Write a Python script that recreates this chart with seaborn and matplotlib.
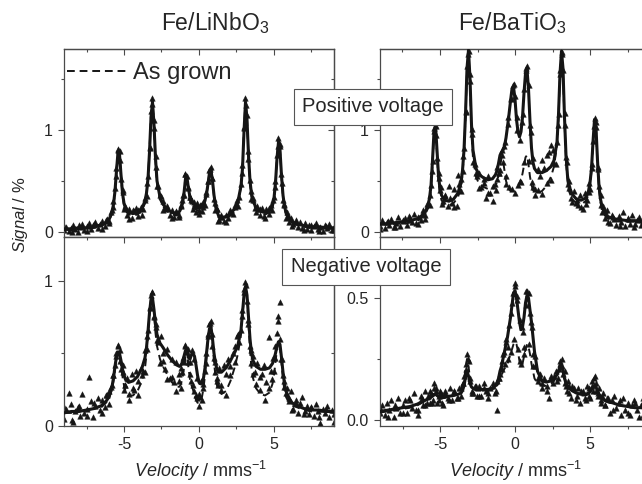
import matplotlib
matplotlib.use("Agg")
import matplotlib.pyplot as plt
import seaborn as sns

# velocity grid (mm/s) for the fitted curves
vel = [-9.0, -8.5, -8.0, -7.5, -7.0, -6.5, -6.2, -6.0, -5.8, -5.7,
       -5.6, -5.5, -5.4, -5.3, -5.2, -5.1, -5.0, -4.9, -4.7, -4.4,
       -4.1, -3.8, -3.6, -3.5, -3.4, -3.3, -3.2, -3.1, -3.0, -2.9,
       -2.8, -2.6, -2.4, -2.1, -1.8, -1.5, -1.3, -1.2, -1.1, -1.0,
       -0.9, -0.8, -0.7, -0.6, -0.5, -0.4, -0.3, -0.2, -0.1, 0.0,
       0.1, 0.2, 0.3, 0.4, 0.5, 0.6, 0.7, 0.8, 0.9, 1.0,
       1.1, 1.2, 1.3, 1.5, 1.8, 2.1, 2.4, 2.6, 2.8, 2.9,
       3.0, 3.1, 3.2, 3.3, 3.4, 3.5, 3.6, 3.8, 4.1, 4.4,
       4.7, 4.9, 5.0, 5.1, 5.2, 5.3, 5.4, 5.5, 5.6, 5.7,
       5.8, 6.0, 6.2, 6.5, 7.0, 7.5, 8.0, 8.5, 9.0]

# Fe/LiNbO3, positive voltage
fit_tl = [0.03, 0.03, 0.04, 0.04, 0.05, 0.07, 0.09, 0.12, 0.19, 0.27,
          0.40, 0.60, 0.78, 0.76, 0.56, 0.38, 0.28, 0.23, 0.19, 0.18,
          0.19, 0.23, 0.30, 0.38, 0.52, 0.78, 1.12, 1.27, 1.05, 0.72,
          0.50, 0.34, 0.27, 0.22, 0.19, 0.18, 0.20, 0.23, 0.28, 0.38,
          0.52, 0.53, 0.42, 0.34, 0.30, 0.28, 0.27, 0.25, 0.24, 0.24,
          0.24, 0.25, 0.27, 0.31, 0.37, 0.47, 0.58, 0.60, 0.50, 0.36,
          0.26, 0.20, 0.16, 0.14, 0.15, 0.18, 0.23, 0.30, 0.45, 0.62,
          0.98, 1.27, 1.10, 0.75, 0.50, 0.37, 0.30, 0.24, 0.20, 0.19,
          0.21, 0.26, 0.33, 0.48, 0.72, 0.88, 0.80, 0.55, 0.36, 0.25,
          0.19, 0.13, 0.10, 0.08, 0.06, 0.05, 0.05, 0.04, 0.04]
grown_tl = [0.02, 0.02, 0.03, 0.03, 0.04, 0.06, 0.08, 0.11, 0.18, 0.26,
            0.40, 0.61, 0.79, 0.76, 0.55, 0.36, 0.26, 0.21, 0.17, 0.16,
            0.17, 0.21, 0.28, 0.37, 0.52, 0.80, 1.15, 1.29, 1.05, 0.70,
            0.48, 0.32, 0.25, 0.20, 0.17, 0.16, 0.18, 0.22, 0.28, 0.39,
            0.54, 0.53, 0.40, 0.31, 0.27, 0.25, 0.24, 0.22, 0.21, 0.21,
            0.22, 0.23, 0.25, 0.29, 0.36, 0.47, 0.59, 0.62, 0.50, 0.35,
            0.24, 0.18, 0.14, 0.12, 0.13, 0.16, 0.21, 0.28, 0.44, 0.62,
            1.00, 1.29, 1.11, 0.74, 0.48, 0.35, 0.28, 0.22, 0.18, 0.17,
            0.19, 0.24, 0.31, 0.47, 0.72, 0.90, 0.81, 0.54, 0.34, 0.23,
            0.17, 0.12, 0.09, 0.07, 0.05, 0.04, 0.04, 0.03, 0.03]

# Fe/BaTiO3, positive voltage
fit_tr = [0.08, 0.08, 0.09, 0.10, 0.11, 0.13, 0.16, 0.19, 0.26, 0.33,
          0.45, 0.70, 0.98, 1.04, 0.80, 0.55, 0.42, 0.36, 0.31, 0.30,
          0.32, 0.38, 0.48, 0.60, 0.80, 1.15, 1.60, 1.78, 1.50, 1.05,
          0.80, 0.62, 0.56, 0.53, 0.51, 0.52, 0.56, 0.60, 0.67, 0.75,
          0.78, 0.80, 0.84, 0.92, 1.03, 1.15, 1.28, 1.40, 1.42, 1.30,
          1.10, 0.98, 0.93, 0.98, 1.12, 1.36, 1.55, 1.59, 1.40, 1.08,
          0.82, 0.68, 0.62, 0.58, 0.58, 0.60, 0.64, 0.70, 0.88, 1.15,
          1.55, 1.77, 1.60, 1.12, 0.75, 0.55, 0.45, 0.37, 0.32, 0.31,
          0.33, 0.40, 0.48, 0.62, 0.88, 1.10, 1.02, 0.70, 0.45, 0.32,
          0.25, 0.18, 0.15, 0.13, 0.12, 0.11, 0.11, 0.10, 0.10]
grown_tr = [0.07, 0.07, 0.08, 0.08, 0.09, 0.11, 0.14, 0.17, 0.23, 0.30,
            0.42, 0.66, 0.95, 1.00, 0.76, 0.50, 0.37, 0.31, 0.27, 0.26,
            0.28, 0.34, 0.44, 0.56, 0.78, 1.13, 1.58, 1.75, 1.45, 0.98,
            0.72, 0.54, 0.47, 0.44, 0.42, 0.42, 0.45, 0.49, 0.55, 0.64,
            0.72, 0.70, 0.60, 0.50, 0.45, 0.42, 0.40, 0.40, 0.40, 0.41,
            0.42, 0.44, 0.47, 0.51, 0.57, 0.65, 0.73, 0.75, 0.66, 0.54,
            0.46, 0.41, 0.39, 0.38, 0.40, 0.45, 0.54, 0.64, 0.85, 1.12,
            1.52, 1.74, 1.55, 1.08, 0.70, 0.50, 0.40, 0.32, 0.28, 0.27,
            0.30, 0.36, 0.45, 0.60, 0.86, 1.08, 1.00, 0.67, 0.42, 0.29,
            0.22, 0.16, 0.13, 0.11, 0.10, 0.10, 0.10, 0.09, 0.09]

# Fe/LiNbO3, negative voltage
fit_bl = [0.09, 0.10, 0.10, 0.11, 0.12, 0.14, 0.17, 0.20, 0.27, 0.33,
          0.41, 0.48, 0.51, 0.50, 0.45, 0.39, 0.35, 0.32, 0.30, 0.31,
          0.34, 0.40, 0.47, 0.54, 0.65, 0.78, 0.87, 0.88, 0.80, 0.70,
          0.63, 0.57, 0.54, 0.49, 0.45, 0.42, 0.41, 0.42, 0.44, 0.48,
          0.52, 0.52, 0.47, 0.46, 0.49, 0.50, 0.48, 0.42, 0.35, 0.30,
          0.29, 0.30, 0.33, 0.40, 0.50, 0.60, 0.67, 0.68, 0.60, 0.50,
          0.43, 0.39, 0.37, 0.37, 0.40, 0.45, 0.51, 0.56, 0.66, 0.78,
          0.90, 0.96, 0.90, 0.75, 0.60, 0.50, 0.45, 0.41, 0.39, 0.39,
          0.40, 0.43, 0.46, 0.50, 0.55, 0.58, 0.56, 0.47, 0.37, 0.29,
          0.24, 0.19, 0.16, 0.14, 0.12, 0.11, 0.11, 0.10, 0.10]
grown_bl = [0.09, 0.09, 0.10, 0.11, 0.12, 0.13, 0.16, 0.19, 0.25, 0.31,
            0.39, 0.46, 0.50, 0.49, 0.42, 0.34, 0.28, 0.24, 0.21, 0.21,
            0.24, 0.31, 0.40, 0.49, 0.62, 0.77, 0.87, 0.88, 0.78, 0.64,
            0.55, 0.46, 0.41, 0.35, 0.30, 0.27, 0.27, 0.29, 0.33, 0.40,
            0.48, 0.48, 0.40, 0.32, 0.28, 0.25, 0.21, 0.18, 0.16, 0.16,
            0.17, 0.20, 0.26, 0.35, 0.47, 0.59, 0.67, 0.68, 0.58, 0.44,
            0.34, 0.28, 0.25, 0.22, 0.24, 0.31, 0.41, 0.50, 0.63, 0.76,
            0.89, 0.96, 0.88, 0.70, 0.52, 0.40, 0.33, 0.26, 0.22, 0.21,
            0.23, 0.29, 0.35, 0.44, 0.53, 0.58, 0.55, 0.43, 0.32, 0.24,
            0.20, 0.16, 0.14, 0.13, 0.11, 0.10, 0.10, 0.10, 0.09]

# Fe/BaTiO3, negative voltage
fit_br = [0.035, 0.040, 0.045, 0.050, 0.055, 0.065, 0.075, 0.080, 0.085, 0.090,
          0.095, 0.100, 0.105, 0.105, 0.100, 0.095, 0.092, 0.092, 0.093, 0.097,
          0.100, 0.105, 0.110, 0.120, 0.140, 0.175, 0.200, 0.180, 0.150, 0.135,
          0.130, 0.125, 0.125, 0.125, 0.125, 0.130, 0.140, 0.150, 0.170, 0.200,
          0.220, 0.250, 0.280, 0.310, 0.340, 0.380, 0.420, 0.470, 0.520, 0.530,
          0.500, 0.450, 0.400, 0.370, 0.380, 0.420, 0.480, 0.510, 0.500, 0.450,
          0.400, 0.340, 0.280, 0.200, 0.160, 0.155, 0.160, 0.170, 0.185, 0.200,
          0.220, 0.225, 0.200, 0.170, 0.150, 0.140, 0.130, 0.120, 0.110, 0.105,
          0.105, 0.110, 0.115, 0.125, 0.135, 0.140, 0.135, 0.120, 0.105, 0.095,
          0.090, 0.080, 0.075, 0.070, 0.060, 0.055, 0.050, 0.050, 0.048]
grown_br = [0.030, 0.035, 0.040, 0.045, 0.050, 0.060, 0.070, 0.075, 0.080, 0.085,
            0.090, 0.095, 0.100, 0.100, 0.095, 0.090, 0.088, 0.088, 0.090, 0.095,
            0.100, 0.105, 0.115, 0.130, 0.160, 0.210, 0.250, 0.220, 0.170, 0.140,
            0.130, 0.120, 0.120, 0.120, 0.120, 0.125, 0.130, 0.140, 0.150, 0.170,
            0.180, 0.200, 0.210, 0.220, 0.230, 0.250, 0.270, 0.290, 0.310, 0.320,
            0.310, 0.280, 0.240, 0.220, 0.230, 0.260, 0.290, 0.310, 0.300, 0.270,
            0.230, 0.200, 0.170, 0.150, 0.140, 0.140, 0.150, 0.160, 0.180, 0.200,
            0.220, 0.230, 0.210, 0.180, 0.155, 0.140, 0.130, 0.120, 0.110, 0.100,
            0.100, 0.105, 0.110, 0.120, 0.135, 0.145, 0.140, 0.120, 0.105, 0.095,
            0.088, 0.078, 0.072, 0.068, 0.060, 0.055, 0.050, 0.048, 0.046]

chan = [-9.00, -8.85, -8.70, -8.55, -8.40, -8.25, -8.10, -7.95, -7.80, -7.65, -7.50,
        -7.35, -7.20, -7.05, -6.90, -6.75, -6.60, -6.45, -6.30, -6.15, -6.00, -5.85,
        -5.70, -5.55, -5.40, -5.25, -5.10, -4.95, -4.80, -4.65, -4.50, -4.35, -4.20,
        -4.05, -3.90, -3.75, -3.60, -3.45, -3.30, -3.15, -3.00, -2.85, -2.70, -2.55,
        -2.40, -2.25, -2.10, -1.95, -1.80, -1.65, -1.50, -1.35, -1.20, -1.05, -0.90,
        -0.75, -0.60, -0.45, -0.30, -0.15, 0.00, 0.15, 0.30, 0.45, 0.60, 0.75,
        0.90, 1.05, 1.20, 1.35, 1.50, 1.65, 1.80, 1.95, 2.10, 2.25, 2.40,
        2.55, 2.70, 2.85, 3.00, 3.15, 3.30, 3.45, 3.60, 3.75, 3.90, 4.05,
        4.20, 4.35, 4.50, 4.65, 4.80, 4.95, 5.10, 5.25, 5.40, 5.55, 5.70,
        5.85, 6.00, 6.15, 6.30, 6.45, 6.60, 6.75, 6.90, 7.05, 7.20, 7.35,
        7.50, 7.65, 7.80, 7.95, 8.10, 8.25, 8.40, 8.55, 8.70, 8.85, 9.00]

data_tl = [0.02, 0.05, 0.01, 0.04, 0.07, 0.03, 0.00, 0.05, 0.08, 0.02, 0.06,
           0.09, 0.03, 0.07, 0.10, 0.04, 0.08, 0.11, 0.06, 0.13, 0.11, 0.19,
           0.30, 0.55, 0.80, 0.70, 0.41, 0.24, 0.17, 0.22, 0.14, 0.20, 0.23,
           0.16, 0.24, 0.22, 0.33, 0.48, 0.82, 1.25, 1.10, 0.64, 0.45, 0.35,
           0.30, 0.22, 0.25, 0.17, 0.21, 0.15, 0.20, 0.17, 0.26, 0.36, 0.57,
           0.44, 0.34, 0.30, 0.25, 0.28, 0.21, 0.26, 0.24, 0.37, 0.50, 0.62,
           0.53, 0.28, 0.22, 0.12, 0.17, 0.11, 0.17, 0.14, 0.21, 0.18, 0.26,
           0.31, 0.34, 0.58, 1.02, 1.24, 0.79, 0.40, 0.33, 0.23, 0.25, 0.17,
           0.23, 0.16, 0.22, 0.18, 0.26, 0.31, 0.44, 0.84, 0.86, 0.48, 0.27,
           0.19, 0.10, 0.14, 0.08, 0.12, 0.05, 0.10, 0.04, 0.09, 0.03, 0.07,
           0.02, 0.06, 0.09, 0.03, 0.05, 0.01, 0.07, 0.04, 0.08, 0.02, 0.05]

data_tr = [0.06, 0.12, 0.04, 0.10, 0.07, 0.13, 0.05, 0.09, 0.15, 0.06, 0.11,
           0.14, 0.07, 0.16, 0.10, 0.18, 0.09, 0.15, 0.12, 0.21, 0.17, 0.27,
           0.36, 0.60, 1.02, 0.95, 0.58, 0.44, 0.30, 0.36, 0.25, 0.33, 0.28,
           0.42, 0.25, 0.47, 0.52, 0.74, 1.18, 1.74, 1.55, 0.96, 0.66, 0.55,
           0.58, 0.44, 0.52, 0.33, 0.55, 0.38, 0.30, 0.47, 0.64, 0.58, 0.80,
           0.84, 0.55, 1.12, 1.30, 1.44, 1.33, 1.00, 0.50, 1.08, 1.40, 1.60,
           1.44, 0.98, 0.72, 0.42, 0.62, 0.55, 0.70, 0.63, 0.75, 0.78, 0.85,
           0.80, 0.66, 1.05, 1.58, 1.74, 1.16, 0.68, 0.50, 0.33, 0.40, 0.28,
           0.26, 0.36, 0.22, 0.38, 0.31, 0.48, 0.66, 1.04, 1.08, 0.62, 0.36,
           0.25, 0.14, 0.21, 0.09, 0.17, 0.13, 0.07, 0.16, 0.10, 0.19, 0.06,
           0.14, 0.08, 0.17, 0.05, 0.12, 0.15, 0.07, 0.11, 0.16, 0.04, 0.10]

data_bl = [0.05, 0.12, 0.23, 0.15, 0.03, 0.10, 0.13, 0.07, 0.22, 0.09, 0.12,
           0.34, 0.17, 0.06, 0.14, 0.19, 0.11, 0.18, 0.13, 0.21, 0.24, 0.27,
           0.35, 0.48, 0.56, 0.45, 0.42, 0.28, 0.33, 0.22, 0.36, 0.25, 0.38,
           0.31, 0.40, 0.38, 0.52, 0.62, 0.82, 0.92, 0.76, 0.70, 0.58, 0.62,
           0.50, 0.39, 0.53, 0.33, 0.46, 0.30, 0.44, 0.36, 0.40, 0.47, 0.56,
           0.53, 0.44, 0.52, 0.46, 0.33, 0.22, 0.31, 0.26, 0.43, 0.62, 0.71,
           0.63, 0.44, 0.33, 0.40, 0.28, 0.42, 0.36, 0.46, 0.41, 0.50, 0.55,
           0.62, 0.58, 0.76, 0.94, 0.97, 0.70, 0.52, 0.48, 0.37, 0.43, 0.34,
           0.36, 0.42, 0.30, 0.61, 0.38, 0.47, 0.55, 0.72, 0.85, 0.46, 0.31,
           0.26, 0.17, 0.24, 0.12, 0.18, 0.09, 0.16, 0.20, 0.10, 0.14, 0.08,
           0.13, 0.07, 0.15, 0.10, 0.02, 0.12, 0.09, 0.14, 0.06, 0.11, 0.08]

data_br = [0.03, 0.06, 0.02, 0.07, 0.04, 0.08, 0.01, 0.05, 0.09, 0.03, 0.06,
           0.08, 0.03, 0.09, 0.05, 0.11, 0.04, 0.02, 0.10, 0.06, 0.12, 0.07,
           0.12, 0.07, 0.15, 0.13, 0.08, 0.11, 0.06, 0.12, 0.09, 0.13, 0.08,
           0.12, 0.09, 0.13, 0.10, 0.15, 0.21, 0.25, 0.17, 0.11, 0.14, 0.10,
           0.14, 0.10, 0.15, 0.12, 0.09, 0.13, 0.15, 0.11, 0.04, 0.17, 0.24,
           0.28, 0.33, 0.30, 0.44, 0.52, 0.55, 0.49, 0.24, 0.38, 0.30, 0.53,
           0.52, 0.40, 0.27, 0.22, 0.16, 0.19, 0.13, 0.17, 0.14, 0.09, 0.18,
           0.15, 0.20, 0.17, 0.24, 0.22, 0.15, 0.12, 0.14, 0.09, 0.13, 0.08,
           0.13, 0.07, 0.12, 0.09, 0.14, 0.10, 0.16, 0.17, 0.12, 0.10, 0.07,
           0.11, 0.06, 0.09, 0.03, 0.08, 0.10, 0.05, 0.07, 0.02, 0.09, 0.04,
           0.07, 0.02, 0.06, 0.08, 0.04, 0.01, 0.06, 0.09, 0.03, 0.05, 0.07]

# second sweep, sampled on the fit grid
data2_tl = [0.06, 0.00, 0.07, 0.01, 0.08, 0.03, 0.12, 0.09, 0.21, 0.24,
            0.43, 0.63, 0.81, 0.79, 0.52, 0.39, 0.22, 0.25, 0.13, 0.21,
            0.21, 0.17, 0.31, 0.35, 0.55, 0.83, 1.18, 1.31, 1.02, 0.74,
            0.45, 0.36, 0.21, 0.24, 0.14, 0.19, 0.15, 0.25, 0.31, 0.36,
            0.57, 0.55, 0.43, 0.34, 0.31, 0.22, 0.29, 0.19, 0.25, 0.18,
            0.26, 0.20, 0.29, 0.26, 0.39, 0.50, 0.61, 0.64, 0.53, 0.32,
            0.21, 0.22, 0.11, 0.15, 0.10, 0.19, 0.24, 0.25, 0.47, 0.65,
            1.03, 1.31, 1.14, 0.71, 0.51, 0.32, 0.31, 0.19, 0.22, 0.14,
            0.23, 0.21, 0.34, 0.50, 0.75, 0.92, 0.84, 0.57, 0.31, 0.26,
            0.14, 0.15, 0.06, 0.10, 0.02, 0.07, 0.01, 0.06, 0.02]
data2_tr = [0.03, 0.11, 0.05, 0.12, 0.14, 0.08, 0.18, 0.13, 0.27, 0.26,
            0.46, 0.69, 0.99, 1.04, 0.72, 0.53, 0.41, 0.27, 0.35, 0.45,
            0.24, 0.56, 0.40, 0.60, 0.82, 1.17, 1.62, 1.77, 1.48, 1.01,
            0.68, 0.58, 0.43, 0.48, 0.38, 0.45, 0.41, 0.52, 0.58, 0.61,
            0.75, 0.68, 0.88, 0.47, 1.06, 0.44, 1.31, 0.42, 1.45, 0.38,
            1.12, 0.46, 0.90, 0.49, 1.15, 0.68, 1.58, 1.62, 0.69, 1.05,
            0.49, 0.44, 0.36, 0.41, 0.37, 0.48, 0.51, 0.67, 0.88, 1.15,
            1.55, 1.76, 1.58, 1.05, 0.73, 0.47, 0.43, 0.29, 0.31, 0.24,
            0.27, 0.39, 0.42, 0.63, 0.89, 1.11, 1.03, 0.64, 0.45, 0.26,
            0.19, 0.20, 0.10, 0.15, 0.06, 0.13, 0.08, 0.12, 0.05]
data2_bl = [0.13, 0.04, 0.14, 0.07, 0.16, 0.09, 0.21, 0.15, 0.28, 0.35,
            0.42, 0.50, 0.55, 0.52, 0.39, 0.37, 0.25, 0.28, 0.18, 0.26,
            0.21, 0.35, 0.37, 0.53, 0.66, 0.81, 0.90, 0.92, 0.75, 0.68,
            0.59, 0.43, 0.45, 0.32, 0.34, 0.24, 0.31, 0.26, 0.37, 0.44,
            0.55, 0.51, 0.44, 0.36, 0.31, 0.28, 0.24, 0.21, 0.19, 0.14,
            0.20, 0.18, 0.29, 0.38, 0.50, 0.63, 0.70, 0.72, 0.55, 0.47,
            0.37, 0.31, 0.28, 0.25, 0.21, 0.35, 0.44, 0.63, 0.66, 0.80,
            0.92, 0.99, 0.86, 0.73, 0.55, 0.43, 0.36, 0.29, 0.25, 0.18,
            0.26, 0.32, 0.38, 0.47, 0.64, 0.76, 0.60, 0.46, 0.35, 0.27,
            0.23, 0.19, 0.11, 0.16, 0.08, 0.13, 0.06, 0.12, 0.03]
data2_br = [0.05, 0.01, 0.06, 0.03, 0.08, 0.04, 0.09, 0.06, 0.10, 0.07,
            0.11, 0.08, 0.13, 0.12, 0.07, 0.10, 0.12, 0.07, 0.11, 0.08,
            0.12, 0.09, 0.13, 0.15, 0.18, 0.23, 0.27, 0.24, 0.16, 0.12,
            0.11, 0.14, 0.10, 0.13, 0.11, 0.14, 0.12, 0.16, 0.17, 0.19,
            0.21, 0.27, 0.23, 0.32, 0.25, 0.39, 0.28, 0.48, 0.33, 0.56,
            0.51, 0.29, 0.41, 0.23, 0.36, 0.27, 0.47, 0.53, 0.31, 0.44,
            0.38, 0.22, 0.26, 0.17, 0.15, 0.12, 0.17, 0.18, 0.16, 0.21,
            0.23, 0.25, 0.19, 0.20, 0.14, 0.16, 0.11, 0.14, 0.10, 0.12,
            0.08, 0.13, 0.09, 0.14, 0.12, 0.18, 0.15, 0.11, 0.13, 0.08,
            0.10, 0.06, 0.09, 0.04, 0.08, 0.03, 0.07, 0.02, 0.06]

sns.set_style("ticks")
plt.rcParams['font.family'] = ['Liberation Sans', 'DejaVu Sans']
plt.rcParams['mathtext.fontset'] = 'custom'
plt.rcParams['mathtext.rm'] = 'Liberation Sans'
plt.rcParams['mathtext.it'] = 'Liberation Sans:italic'
plt.rcParams['axes.unicode_minus'] = False

INK = '#151515'
SPINE = '#4a4a4a'
TXT = '#262626'

W, H = 642, 484
fig = plt.figure(figsize=(W / 100, H / 100), dpi=100)


def box(x0, y0, x1, y1):
    return [x0 / W, 1 - y1 / H, (x1 - x0) / W, (y1 - y0) / H]


ax_tl = fig.add_axes(box(64, 49, 334, 237))
ax_bl = fig.add_axes(box(64, 237, 334, 426))
ax_tr = fig.add_axes(box(380, 49, 650, 237))
ax_br = fig.add_axes(box(380, 237, 650, 426))


def draw(ax, data, data2, fit, grown, label=None):
    for x, y in ((chan, data), (vel, data2)):
        sns.scatterplot(x=x, y=y, ax=ax, marker='^', s=16, color=INK,
                        edgecolor=INK, linewidth=0.3, legend=False, zorder=2)
    sns.lineplot(x=vel, y=grown, ax=ax, color=INK, lw=1.4,
                 linestyle=(0, (4, 2.5)), label=label, legend=False, zorder=3)
    sns.lineplot(x=vel, y=fit, ax=ax, color=INK, lw=2.2, legend=False, zorder=4)


def style(ax, ylim, yticks, yminor, ylabels, show_x):
    ax.set_xlim(-9, 9)
    ax.set_ylim(*ylim)
    ax.set_xticks([-5, 0, 5])
    ax.set_xticks([-7.5, -2.5, 2.5, 7.5], minor=True)
    ax.set_yticks(yticks)
    ax.set_yticks(yminor, minor=True)
    ax.set_yticklabels(ylabels)
    ax.set_xlabel('')
    ax.set_ylabel('')
    ax.tick_params(which='both', direction='out', color=SPINE, width=0.8,
                   labelsize=11.5, labelcolor=TXT)
    ax.tick_params(which='major', length=4.5)
    ax.tick_params(which='minor', length=2.5)
    if not show_x:
        ax.tick_params(axis='x', labelbottom=False)
    for s in ax.spines.values():
        s.set_color(SPINE)
        s.set_linewidth(0.9)
    # mirrored ticks pointing inward on top and right
    top = ax.secondary_xaxis('top')
    top.set_ticks([-5, 0, 5])
    top.set_ticks([-7.5, -2.5, 2.5, 7.5], minor=True)
    top.tick_params(which='both', direction='in', color=SPINE, width=0.8, labeltop=False)
    top.tick_params(which='major', length=4.5)
    top.tick_params(which='minor', length=2.5)
    right = ax.secondary_yaxis('right')
    right.set_ticks(yticks)
    right.set_ticks(yminor, minor=True)
    right.tick_params(which='both', direction='in', color=SPINE, width=0.8, labelright=False)
    right.tick_params(which='major', length=4.5)
    right.tick_params(which='minor', length=2.5)
    for sec in (top, right):
        for s in sec.spines.values():
            s.set_color(SPINE)
            s.set_linewidth(0.9)


draw(ax_tl, data_tl, data2_tl, fit_tl, grown_tl, label='As grown')
draw(ax_tr, data_tr, data2_tr, fit_tr, grown_tr)
draw(ax_bl, data_bl, data2_bl, fit_bl, grown_bl)
draw(ax_br, data_br, data2_br, fit_br, grown_br)

style(ax_tl, (-0.05, 1.79), [0, 1], [0.5, 1.5], ['0', '1'], False)
style(ax_tr, (-0.05, 1.79), [0, 1], [0.5, 1.5], ['0', '1'], False)
style(ax_bl, (0, 1.30), [0, 1], [0.5], ['0', '1'], True)
style(ax_br, (-0.025, 0.75), [0.0, 0.5], [0.25], ['0.0', '0.5'], True)

ax_tl.legend(loc='upper left', bbox_to_anchor=(-0.005, 0.955), frameon=False,
             fontsize=17, handlelength=2.5, handletextpad=0.3,
             borderaxespad=0.0, borderpad=0.2, labelcolor=TXT)

fig.text(215 / W, 1 - 30 / H, 'Fe/LiNbO$_3$', ha='center', va='baseline',
         fontsize=16.5, color=TXT)
fig.text(512 / W, 1 - 30 / H, 'Fe/BaTiO$_3$', ha='center', va='baseline',
         fontsize=16.5, color=TXT)

boxprops = dict(boxstyle='square,pad=0.42', fc='white', ec='#555555', lw=0.8)
fig.text(373 / W, 1 - 107 / H, 'Positive voltage', ha='center', va='center',
         fontsize=14.5, color=TXT, bbox=boxprops, zorder=10)
fig.text(366 / W, 1 - 267 / H, 'Negative voltage', ha='center', va='center',
         fontsize=14.5, color=TXT, bbox=boxprops, zorder=10)

fig.text(200 / W, 1 - 477 / H, r'$\it{Velocity}$ / mms$^{-1}$', ha='center',
         va='baseline', fontsize=13, color=TXT)
fig.text(515 / W, 1 - 477 / H, r'$\it{Velocity}$ / mms$^{-1}$', ha='center',
         va='baseline', fontsize=13, color=TXT)
fig.text(21 / W, 1 - 215 / H, r'$\it{Signal}$ / %', ha='center', va='center',
         rotation=90, fontsize=12, color=TXT)

fig.savefig('out.png', dpi=100)
plt.close(fig)
